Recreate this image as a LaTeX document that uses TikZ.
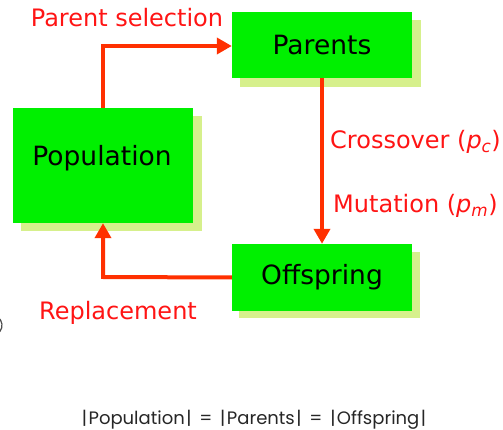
\documentclass[tikz,border=0pt]{standalone}
\usepackage{fontspec}
\setmainfont{DejaVu Sans}
\newfontfamily\eqfont{Poppins}
\usetikzlibrary{arrows.meta}
\definecolor{boxgreen}{RGB}{0,240,0}
\definecolor{boxshade}{RGB}{214,240,140}
\definecolor{flowred}{RGB}{255,48,0}
\definecolor{labelred}{RGB}{255,20,20}
\tikzset{
  stage/.style={fill=boxgreen, draw=none, inner sep=0pt, font=\fontsize{26.5}{30}\selectfont, text=black},
  shade/.style={fill=boxshade, draw=none},
  flow/.style={draw=flowred, line width=4pt, -{Triangle[length=15pt,width=16pt]}},
  lbl/.style={text=labelred, font=\fontsize{24}{28}\selectfont, inner sep=0pt}
}
\begin{document}
\begin{tikzpicture}[x=1pt,y=-1pt]
\useasboundingbox (0,0) rectangle (503,430);
% drop shadows
\fill[shade] (240,20) rectangle (421,87);
\fill[shade] (21,116) rectangle (202,231);
\fill[shade] (239,252) rectangle (420,318);
% stages
\node[stage, minimum width=180pt, minimum height=66pt] (par) at (322,45) {Parents};
\node[stage, minimum width=180pt, minimum height=115pt] (pop) at (103,165.5) {};
\node[text=black, font=\fontsize{26.5}{30}\selectfont, inner sep=0pt] (poptext) at (102,158) {Population};
\node[stage, minimum width=180pt, minimum height=67pt] (off) at (322,277.5) {Offspring};
% flows
\coordinate (selc) at (103,46);
\coordinate (repc) at (103,277);
\draw[flow] (pop.north -| selc) -- (selc) -- (selc -| par.west);
\draw[flow] (par.south) -- (off.north);
\draw[flow] (off.west) -- (repc) -- (pop.south);
% labels
\node[lbl, anchor=base] (lsel) at (127,27) {Parent selection};
\node[lbl, anchor=base west] (lcross) at (330,149) {Crossover (\textit{p}\textsubscript{\textit{c}})};
\node[lbl, anchor=base west] (lmut) at (333,213) {Mutation (\textit{p}\textsubscript{\textit{m}})};
\node[lbl, anchor=base] (lrep) at (118,319) {Replacement};
\node[font=\eqfont\fontsize{18}{20}\selectfont, text=black!85, inner sep=0pt] (eq) at (254,420) {|\kern1.5pt Population\kern1.5pt| \,=\, |\kern1.5pt Parents\kern1.5pt| \,=\, |\kern1.5pt Offspring\kern1.5pt|};
% clipped bracket at the left edge
\draw[black!70, line width=1.2pt] (-3,334) arc[start angle=60, end angle=-60, radius=10];
\end{tikzpicture}
\end{document}
